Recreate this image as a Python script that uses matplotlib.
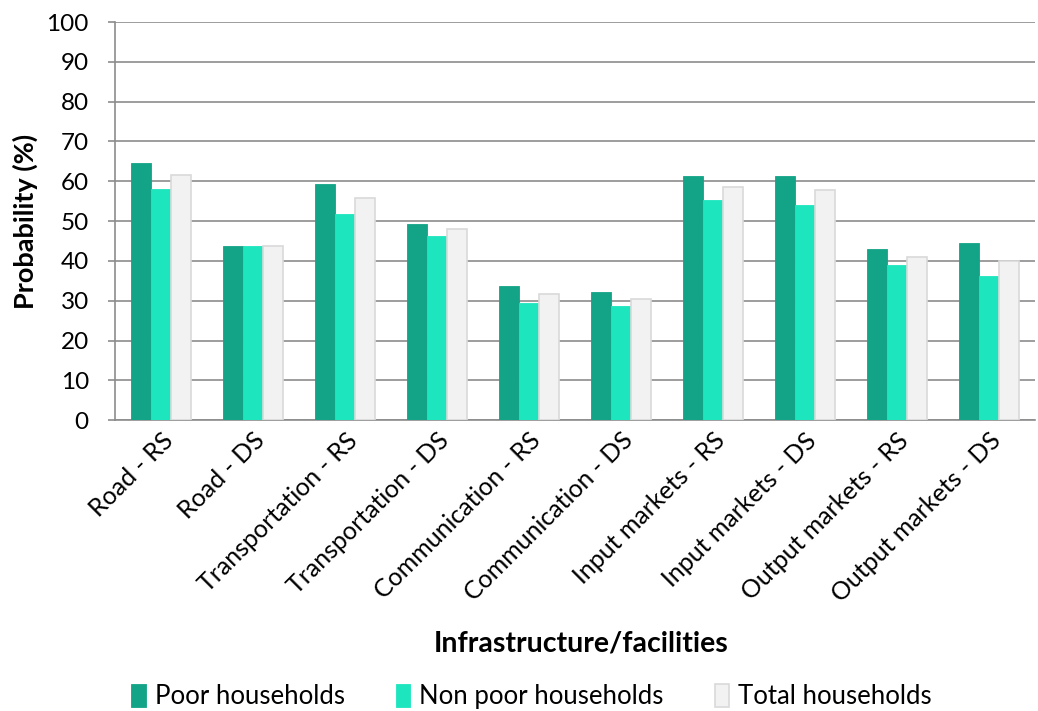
import numpy as np
import matplotlib
matplotlib.use("Agg")
import matplotlib.pyplot as plt

plt.rcParams['font.family'] = ['Lato', 'DejaVu Sans']

categories = ["Road - RS", "Road - DS", "Transportation - RS", "Transportation - DS",
              "Communication - RS", "Communication - DS", "Input markets - RS",
              "Input markets - DS", "Output markets - RS", "Output markets - DS"]
poor = [64.5, 43.8, 59.3, 49.3, 33.6, 32.2, 61.3, 61.3, 43.0, 44.4]
non_poor = [58.0, 43.8, 51.8, 46.3, 29.4, 28.6, 55.2, 54.0, 38.9, 36.1]
total = [61.5, 43.7, 55.7, 47.9, 31.6, 30.5, 58.5, 57.9, 41.0, 40.1]

fig = plt.figure(figsize=(10.38, 7.11), dpi=100)
ax = fig.add_axes([0.111, 0.409, 0.886, 0.56])

x = np.arange(len(categories))
w = 0.218
ax.bar(x - w, poor, w, color="#13A387", edgecolor="#13A387", linewidth=0.6,
       label="Poor households", zorder=3)
ax.bar(x, non_poor, w, color="#1DE6BE", edgecolor="#1DE6BE", linewidth=0.6,
       label="Non poor households", zorder=3)
ax.bar(x + w, total, w, color="#F2F2F2", edgecolor="#D9D9D9", linewidth=1.2,
       label="Total households", zorder=3)

ax.set_xlim(-0.5, len(categories) - 0.5)
ax.set_ylim(0, 100)
ax.set_yticks(range(0, 101, 10))
ax.yaxis.grid(True, color="#8C8C8C", linewidth=1.2, zorder=0)
ax.set_axisbelow(True)

for s in ["top", "right"]:
    ax.spines[s].set_visible(False)
for s in ["left", "bottom"]:
    ax.spines[s].set_color("#8C8C8C")
    ax.spines[s].set_linewidth(1.2)

ax.tick_params(axis="y", labelsize=17.5, length=5, color="#8C8C8C", width=1.2, pad=14)
ax.tick_params(axis="x", length=0, pad=6)
ax.set_xticks(x)
ax.set_xticklabels(categories, rotation=45, ha="right", rotation_mode="anchor",
                   fontsize=18)

ax.set_ylabel("Probability (%)", fontsize=19.5, fontweight="bold", labelpad=6)
fig.text(0.56, 0.095, "Infrastructure/facilities", ha="center", va="center",
         fontsize=20.5, fontweight="bold")

fig.legend(loc="center", bbox_to_anchor=(0.512, 0.02), ncol=3, frameon=False,
           fontsize=18.5, handlelength=0.55, handleheight=1.0, handletextpad=0.35,
           columnspacing=2.0)

fig.savefig("out.png", dpi=100)
